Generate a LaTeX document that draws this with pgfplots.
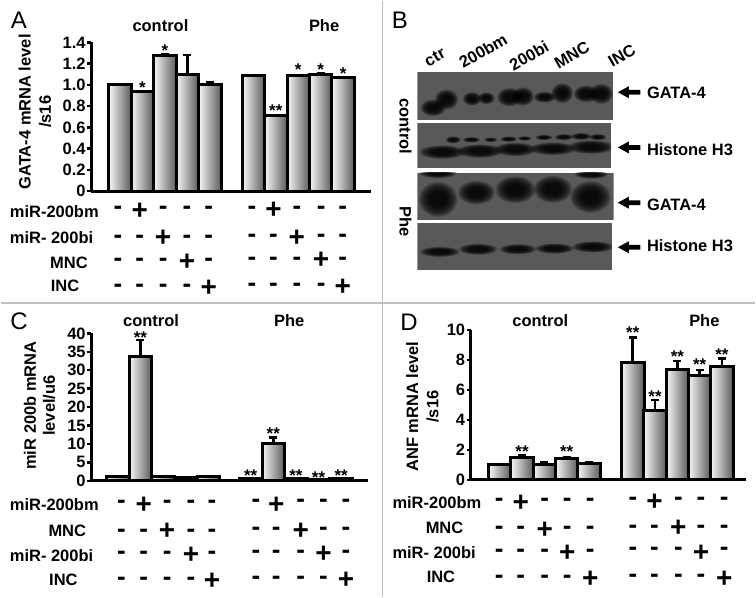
\documentclass[border=0pt]{standalone}
\usepackage{pgfplots}
\pgfplotsset{compat=1.18}
\usepackage{pgfplotstable}
\usepackage{fontspec}
\setmainfont{Liberation Sans}
\newcommand{\fs}[1]{\fontsize{#1}{#1}\selectfont}
\definecolor{barL}{gray}{0.97}
\definecolor{barR}{gray}{0.36}
\definecolor{blot}{gray}{0.35}
\definecolor{rulegray}{gray}{0.75}

% bars: x in bar widths, y value, err plus
\pgfplotstableread{
x y err
1 1.00 0
2 0.94 0
3 1.28 0.01
4 1.10 0.18
5 1.00 0.02
6.94 1.085 0.005
7.94 0.71 0
8.94 1.085 0
9.94 1.10 0.005
10.94 1.07 0
}\dataA
\pgfplotstableread{
x y star
2 1.008 *
3 1.36 *
7.94 0.795 **
8.94 1.18 *
9.94 1.18 *
10.94 1.14 *
}\starsA
\pgfplotstableread{
x y err
1 1.2 0
2 33.7 4.5
3 1.2 0
4 1.0 0
5 1.2 0
6.87 0.7 0
7.87 10.2 1.6
8.87 0.6 0
9.87 0.4 0
10.87 0.6 0
}\dataC
\pgfplotstableread{
x y star
2 39.7 **
6.87 2.3 **
7.87 13.9 **
8.87 2.3 **
9.87 1.8 **
10.87 2.3 **
}\starsC
\pgfplotstableread{
x y err
1 1.0 0
2 1.49 0.13
3 1.0 0.15
4 1.45 0.08
5 1.08 0.1
6.97 7.85 1.65
7.97 4.6 0.73
8.97 7.4 0.53
9.97 6.95 0.38
10.97 7.6 0.5
}\dataD
\pgfplotstableread{
x y star
2 2.11 **
4 2.11 **
6.97 10.05 **
7.97 5.78 **
8.97 8.44 **
9.97 7.93 **
10.97 8.62 **
}\starsD

\pgfplotsset{
  panel/.style={
    scale only axis, anchor=south west, clip=false,
    axis lines*=left, axis line style={line width=3pt,-},
    xtick=\empty, tick align=outside, major tick length=4pt,
    ytick style={line width=2.4pt,black},
    tick label style={font=\fs{16.5}\bfseries},
    /pgf/number format/assume math mode=true,
    yticklabel style={inner sep=1.5pt},
  },
  bars/.style={ybar, bar width=22.5pt, bar shift=0pt, draw=black, line width=3pt,
    left color=barL, right color=barR, forget plot},
  errs/.style={draw=none, mark=none, forget plot,
    error bars/.cd, y dir=plus, y explicit,
    error bar style={line width=2.6pt,black},
    error mark options={line width=2.6pt,black,mark size=4pt,rotate=90}},
  stars/.style={only marks, mark=none, point meta=explicit symbolic,
    nodes near coords, nodes near coords align={anchor=base},
    every node near coord/.style={font=\fs{17}\bfseries, inner sep=0pt, anchor=base, yshift=-9.5pt}},
}
% one plot per bar, so that each has its own gradient
\newcommand{\drawbars}[1]{%
  \addplot[errs] table[x=x,y=y,y error=err] {#1};
  \pgfplotsinvokeforeach{0,...,9}{%
    \addplot[bars, restrict expr to domain={\coordindex}{##1:##1}] table[x=x,y=y] {#1};
  }
}

\newcommand{\signs}[4]{% x list, y of minus, y of plus, index of plus
  \foreach \xx [count=\i] in {#1} {
    \ifnum\i=#4\relax
      \node[anchor=base,inner sep=0pt,font=\fs{28}\bfseries] at (\xx,#3+28) {+};
    \else
      \node[anchor=base,inner sep=0pt,font=\fs{26}\bfseries] at (\xx,#2+21) {-};
    \fi
  }
}
\newcommand{\rowlabel}[3]{\node[anchor=west,inner sep=0pt,font=\fs{16.5}\bfseries] at (#1,#2) {#3};}
\newcommand{\toplabel}[3]{\node[inner sep=0pt,font=\fs{16.5}\bfseries] at (#1,#2) {#3};}
\newcommand{\ylab}[3]{\node[inner sep=0pt,rotate=90,font=\fs{16.5}\bfseries] at (#1,#2) {#3};}
\newcommand{\letter}[3]{\node[anchor=base west,inner sep=0pt,font=\fs{24}] at (#1,#2) {#3};}
\newcommand{\band}[4]{% cx cy rx ry, soft edge from stacked ellipses
  \foreach \k in {1.25,1.15,1.05,0.95,0.85,0.75,0.65,0.55}
    \fill[black,opacity=0.22] (#1,#2) ellipse [x radius=#3*\k,y radius=#4*\k];
}
\newcommand{\blockarrow}[2]{%
  \fill[black] (#1,#2) -- ++(33,-18) -- ++(0,11) -- ++(35,0) -- ++(0,14) -- ++(-35,0) -- ++(0,11) -- cycle;
}

\begin{document}
\begin{tikzpicture}[x=1pt,y=-1pt]
\path (0,0) rectangle (756,597);
\draw[rulegray,line width=1.5pt] (382.5,0) -- (382.5,597);
\draw[rulegray,line width=1.5pt] (0,303) -- (756,303);

% panel A
\begin{axis}[panel, at={(90.7pt,-190.7pt)}, width=280.3pt, height=149pt,
  xmin=-0.28, xmax=12.18, ymin=0, ymax=1.4,
  ytick={0,0.2,0.4,0.6,0.8,1.0,1.2,1.4},
  yticklabels={0,0.2,0.4,0.6,0.8,1.0,1.2,1.4}]
\drawbars{\dataA}
\addplot[stars] table[x=x,y=y,meta=star] {\starsA};
\end{axis}

% panel C
\begin{axis}[panel, at={(90.7pt,-481pt)}, width=277.6pt, height=147.7pt,
  xmin=-0.173, xmax=12.07, ymin=0, ymax=40,
  ytick={0,5,10,15,20,25,30,35,40}]
\drawbars{\dataC}
\addplot[stars] table[x=x,y=y,meta=star] {\starsC};
\end{axis}

% panel D
\begin{axis}[panel, at={(471pt,-480pt)}, width=275.7pt, height=150pt,
  xmin=-0.30, xmax=12.05, ymin=0, ymax=10,
  ytick={0,2,4,6,8,10}]
\drawbars{\dataD}
\addplot[stars] table[x=x,y=y,meta=star] {\starsD};
\end{axis}

% labels and treatment rows, in 3x coordinates per panel
\begin{scope}[x=0.33333pt,y=-0.33333pt]
\letter{30}{84}{A}
\toplabel{480}{75}{control}
\toplabel{972}{75}{Phe}
\ylab{72}{334}{GATA-4 mRNA level}
\ylab{133}{334}{/s16}
\rowlabel{27}{635}{miR-200bm}
\rowlabel{27}{712}{miR- 200bi}
\rowlabel{148}{787}{MNC}
\rowlabel{150}{857}{INC}
\signs{352,418,488,560,625}{622}{630}{2}
\signs{352,418,488,560,625}{708}{712}{3}
\signs{352,418,488,560,625}{778}{783}{4}
\signs{352,418,488,560,625}{855}{860}{5}
\signs{755,820,890,963,1028}{622}{628}{2}
\signs{755,820,890,963,1028}{705}{710}{3}
\signs{755,820,890,963,1028}{775}{778}{4}
\signs{755,820,890,963,1028}{852}{858}{5}
\end{scope}

\begin{scope}[shift={(0,305)},x=0.33333pt,y=-0.33333pt]
\letter{28}{72}{C}
\toplabel{452}{45}{control}
\toplabel{867}{45}{Phe}
\ylab{88}{302}{miR 200b mRNA}
\ylab{145}{302}{level/u6}
\rowlabel{27}{600}{miR-200bm}
\rowlabel{143}{677}{MNC}
\rowlabel{27}{752}{miR- 200bi}
\rowlabel{145}{825}{INC}
\signs{363,430,500,572,635}{590}{598}{2}
\signs{363,430,500,572,635}{677}{677}{3}
\signs{363,430,500,572,635}{745}{750}{4}
\signs{363,430,500,572,635}{822}{827}{5}
\signs{767,828,902,970,1038}{588}{597}{2}
\signs{767,828,902,970,1038}{672}{675}{3}
\signs{767,828,902,970,1038}{742}{745}{4}
\signs{767,828,902,970,1038}{820}{825}{5}
\end{scope}

\begin{scope}[shift={(385,305)},x=0.33333pt,y=-0.33333pt]
\letter{46}{75}{D}
\toplabel{467}{45}{control}
\toplabel{960}{45}{Phe}
\ylab{82}{305}{ANF mRNA level}
\ylab{143}{305}{/s16}
\rowlabel{22}{595}{miR-200bm}
\rowlabel{122}{670}{MNC}
\rowlabel{22}{745}{miR- 200bi}
\rowlabel{125}{817}{INC}
\signs{343,408,480,548,617}{585}{592}{2}
\signs{343,408,480,548,617}{668}{672}{3}
\signs{343,408,480,548,617}{738}{742}{4}
\signs{343,408,480,548,617}{815}{822}{5}
\signs{745,810,882,950,1020}{580}{590}{2}
\signs{745,810,882,950,1020}{665}{668}{3}
\signs{745,810,882,950,1020}{733}{742}{4}
\signs{745,810,882,950,1020}{812}{820}{5}
\end{scope}

% panel B: blot
\begin{scope}[shift={(385,0)},x=0.33333pt,y=-0.33333pt]
\letter{20}{84}{B}
\foreach \xx/\yy/\tt in {150/170/ctr,295/150/200bm,433/165/200bi,562/163/MNC,712/165/INC}
  \node[inner sep=0pt,rotate=30,font=\fs{16.5}\bfseries] at (\xx,\yy) {\tt};
\node[inner sep=0pt,rotate=-90,font=\fs{16.5}\bfseries] at (62,378) {control};
\node[inner sep=0pt,rotate=-90,font=\fs{16.5}\bfseries] at (62,665) {Phe};

\begin{scope}
\clip (97,213) rectangle (685,358);
\fill[blot] (97,213) rectangle (685,358);
\band{145}{322}{30}{20}\band{185}{297}{28}{24}
\band{262}{295}{22}{16}\band{305}{293}{20}{14}
\band{375}{290}{30}{22}\band{415}{288}{26}{22}
\band{480}{290}{26}{13}\band{533}{278}{26}{24}
\band{605}{280}{30}{20}\band{650}{280}{28}{24}
\end{scope}
\begin{scope}
\clip (97,368) rectangle (680,503);
\fill[blot] (97,368) rectangle (680,503);
\band{205}{418}{18}{8}\band{260}{418}{20}{6}\band{318}{418}{16}{5}
\band{372}{416}{20}{6}\band{420}{414}{16}{5}\band{478}{411}{20}{6}
\band{538}{410}{22}{7}\band{590}{408}{24}{8}\band{640}{410}{20}{7}
\band{172}{455}{55}{16}\band{285}{452}{55}{16}\band{392}{447}{50}{16}
\band{505}{445}{55}{15}\band{620}{440}{55}{16}
\end{scope}
\begin{scope}
\clip (97,517) rectangle (687,660);
\fill[blot] (97,517) rectangle (687,660);
\band{160}{518}{45}{12}\band{160}{597}{46}{42}
\band{275}{577}{44}{28}\band{392}{568}{48}{32}
\band{505}{567}{46}{32}\band{618}{590}{48}{38}\band{620}{522}{40}{10}
\end{scope}
\begin{scope}
\clip (97,668) rectangle (682,810);
\fill[blot] (97,668) rectangle (682,810);
\band{165}{755}{48}{12}\band{280}{747}{46}{13}\band{400}{747}{44}{12}
\band{510}{745}{46}{12}\band{625}{740}{50}{13}
\end{scope}

\blockarrow{700}{275}
\blockarrow{700}{441}
\blockarrow{700}{607}
\blockarrow{700}{741}
\rowlabel{787}{278}{GATA-4}
\rowlabel{787}{447}{Histone H3}
\rowlabel{787}{613}{GATA-4}
\rowlabel{787}{735}{Histone H3}
\end{scope}
\end{tikzpicture}
\end{document}
